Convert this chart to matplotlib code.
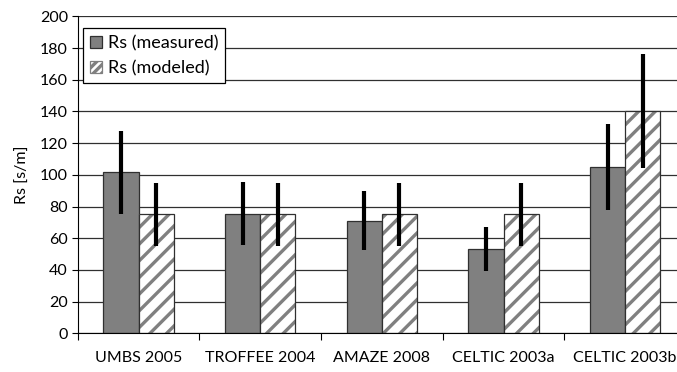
import matplotlib.pyplot as plt
from matplotlib.patches import Patch
import numpy as np

# Valores de resistência estomática por campanha
campanhas = ["UMBS 2005", "TROFFEE 2004", "AMAZE 2008", "CELTIC 2003a", "CELTIC 2003b"]
rs_medido = [101.5, 75.5, 71, 53, 105]
erro_medido = [26, 20, 18.5, 14, 27]
rs_modelado = [75, 75, 75, 75, 140]
erro_modelado = [20, 20, 20, 20, 36]
yticks = [0, 20, 40, 60, 80, 100, 120, 140, 160, 180, 200]

plt.rcParams['font.family'] = ['Lato', 'DejaVu Sans']
plt.rcParams['hatch.linewidth'] = 2.4

CINZA = '#808080'
BORDA = '#303030'
FS = 11.5

def main():
    fig = plt.figure(figsize=(6.77, 3.72), dpi=100)
    ax = fig.add_axes([77.7 / 677, 1 - 333.3 / 372, (686 - 77.7) / 677, (333.3 - 16.3) / 372])

    x = np.arange(len(campanhas))
    w = 0.288

    ax.bar(x - w / 2, rs_medido, w, color=CINZA, edgecolor=BORDA, linewidth=0.9, zorder=2)
    # hachura cinza primeiro, contorno escuro por cima
    ax.bar(x + w / 2, rs_modelado, w, color='white', edgecolor=CINZA, linewidth=0,
           hatch='//', zorder=2)
    ax.bar(x + w / 2, rs_modelado, w, fill=False, edgecolor=BORDA, linewidth=0.9, zorder=2)
    ax.errorbar(x - w / 2, rs_medido, yerr=erro_medido, fmt='none', ecolor='black', elinewidth=3,
                capsize=0, zorder=3)
    ax.errorbar(x + w / 2, rs_modelado, yerr=erro_modelado, fmt='none', ecolor='black', elinewidth=3,
                capsize=0, zorder=3)

    ax.set_xlim(-0.5, len(campanhas) - 0.5)
    ax.set_ylim(0, 200)
    ax.set_yticks(yticks)
    ax.yaxis.grid(True, color=BORDA, linewidth=0.9, zorder=0)
    ax.set_axisbelow(True)

    # ticks nas divisões, rótulos no centro de cada grupo
    ax.set_xticks(np.arange(len(campanhas) + 1) - 0.5)
    ax.set_xticklabels([])
    ax.set_xticks(x, minor=True)
    ax.set_xticklabels(campanhas, minor=True, fontsize=FS)
    ax.tick_params(axis='x', which='major', length=5, direction='out', color='black')
    ax.tick_params(axis='x', which='minor', length=0, pad=13)
    ax.tick_params(axis='y', length=4, direction='out', labelsize=FS, pad=3)

    ax.spines['top'].set_visible(False)
    ax.spines['right'].set_visible(False)
    ax.spines['left'].set_color('black')
    ax.spines['bottom'].set_color('black')

    ax.set_ylabel("Rs [s/m]", fontsize=FS, labelpad=7)

    h1 = Patch(facecolor=CINZA, edgecolor=BORDA, linewidth=0.9)
    h2 = Patch(facecolor='white', edgecolor=CINZA, hatch='////', linewidth=0.9)
    leg = ax.legend([h1, h2], ["Rs (measured)", "Rs (modeled)"], loc='upper left',
                    bbox_to_anchor=(83 / 677, 1 - 28 / 372), bbox_transform=fig.transFigure,
                    borderaxespad=0, fancybox=False, edgecolor='black', framealpha=1,
                    fontsize=13, handlelength=0.65, handleheight=0.65, handletextpad=0.35,
                    borderpad=0.38, labelspacing=0.5)
    leg.get_frame().set_linewidth(0.9)

    fig.savefig("out.png", dpi=100)

if __name__ == "__main__":
    main()
